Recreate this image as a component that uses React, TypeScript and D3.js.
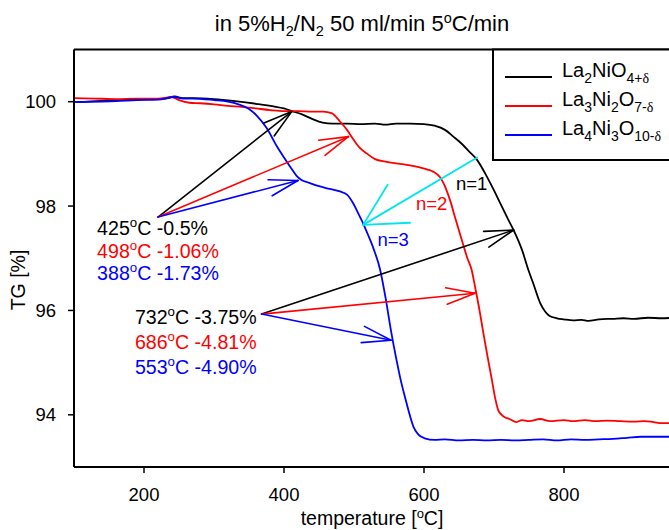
import React from "react";
import * as d3 from "d3";

// ---- data (temperature °C, TG %) ----
const la2NiO4: [number, number][] = [
  [100, 99.99], [120, 100.0], [150, 100.02], [180, 100.04], [210, 100.05], [230, 100.06], [244, 100.1], [255, 100.07],
  [270, 100.07], [300, 100.05], [330, 100.01], [360, 99.96], [385, 99.91], [400, 99.87], [411, 99.82], [425, 99.76],
  [440, 99.67], [455, 99.6], [470, 99.58], [490, 99.58], [510, 99.57], [530, 99.58], [545, 99.56], [560, 99.58],
  [580, 99.58], [600, 99.57], [615, 99.54], [630, 99.46], [642, 99.33], [655, 99.18], [665, 99.04], [675, 98.9],
  [690, 98.56], [700, 98.3], [709, 98.05], [720, 97.75], [728, 97.54], [740, 97.16], [749, 96.78], [756, 96.52],
  [766, 96.14], [773, 95.98], [779, 95.9], [790, 95.85], [800, 95.83], [813, 95.81], [825, 95.82], [835, 95.8],
  [850, 95.83], [870, 95.84], [885, 95.85], [900, 95.84], [920, 95.86], [940, 95.85], [960, 95.86], [980, 95.86], [1000, 95.86],
];
const la3Ni2O7: [number, number][] = [
  [100, 100.07], [130, 100.06], [160, 100.05], [190, 100.06], [220, 100.06], [240, 100.09], [250, 100.03], [265, 99.98],
  [280, 99.97], [300, 99.95], [320, 99.92], [340, 99.9], [360, 99.87], [380, 99.84], [400, 99.82], [420, 99.82],
  [440, 99.81], [456, 99.81], [468, 99.78], [480, 99.62], [490, 99.46], [499, 99.28], [508, 99.12], [518, 99.01],
  [530, 98.9], [545, 98.85], [566, 98.81], [580, 98.78], [594, 98.74], [605, 98.7], [613, 98.66], [623, 98.55],
  [632, 98.31], [638, 98.08], [644, 97.8], [654, 97.35], [662, 97.0], [668, 96.78], [673, 96.45], [680, 95.95],
  [685, 95.55], [691, 95.1], [697, 94.67], [702, 94.3], [706, 94.09], [711, 94.0], [716, 93.95], [722, 93.92],
  [732, 93.86], [740, 93.9], [750, 93.88], [766, 93.92], [780, 93.88], [800, 93.9], [813, 93.88], [830, 93.9],
  [845, 93.88], [861, 93.89], [880, 93.88], [900, 93.87], [915, 93.88], [928, 93.86], [940, 93.84], [950, 93.84],
  [970, 93.84], [1000, 93.84],
];
const la4Ni3O10: [number, number][] = [
  [100, 99.99], [130, 100.0], [160, 100.01], [190, 100.03], [220, 100.04], [244, 100.09], [255, 100.06], [270, 100.06],
  [300, 100.03], [320, 100.0], [335, 99.95], [350, 99.86], [362, 99.72], [375, 99.5], [390, 99.14], [400, 98.93],
  [409, 98.75], [418, 98.58], [425, 98.5], [435, 98.45], [450, 98.38], [465, 98.33], [480, 98.28], [490, 98.22],
  [499, 98.05], [506, 97.86], [513, 97.67], [520, 97.45], [528, 97.18], [537, 96.8], [545, 96.25], [553, 95.6],
  [560, 95.1], [567, 94.65], [574, 94.28], [580, 93.98], [585, 93.77], [592, 93.62], [601, 93.55], [615, 93.52],
  [630, 93.53], [650, 93.51], [670, 93.52], [690, 93.51], [710, 93.52], [730, 93.51], [750, 93.52], [770, 93.53],
  [790, 93.51], [810, 93.53], [830, 93.52], [850, 93.53], [870, 93.54], [890, 93.56], [910, 93.58], [930, 93.58],
  [950, 93.58], [970, 93.58], [1000, 93.58],
];

const xTicks = [200, 400, 600, 800];
const yTicks = [94, 96, 98, 100];

const seriesNames = ["La2NiO4+δ", "La3Ni2O7-δ", "La4Ni3O10-δ"];
const legendParts: [string, string][][] = [
  [["La", "2"], ["NiO", "4+δ"]],
  [["La", "3"], ["Ni", "2"], ["O", "7-δ"]],
  [["La", "4"], ["Ni", "3"], ["O", "10-δ"]],
];
const colors = ["#000000", "#ff0000", "#0000ff"];

// annotation groups: origin, tips (per series), labels
const group1Origin: [number, number] = [220, 97.79];
const group1Tips: [number, number][] = [[411, 99.81], [492, 99.33], [420, 98.49]];
const group1Temps = ["425", "498", "388"];
const group1Loss = ["-0.5%", "-1.06%", "-1.73%"];
const group1TextAnchor: [number, number][] = [[133, 97.58], [133, 97.14], [133, 96.72]];

const group2Origin: [number, number] = [368, 95.93];
const group2Tips: [number, number][] = [[728, 97.54], [673, 96.33], [553, 95.43]];
const group2Temps = ["732", "686", "553"];
const group2Loss = ["-3.75%", "-4.81%", "-4.90%"];
const group2TextAnchor: [number, number][] = [[187, 95.88], [187, 95.4], [187, 94.91]];

const cyanFrom: [number, number] = [676, 98.93];
const cyanTo: [number, number] = [513, 97.64];

const nLabels = ["n=1", "n=2", "n=3"];
const nPos: [number, number][] = [[668, 98.44], [611, 98.05], [556, 97.35]];

const FONT = "'Liberation Sans', Arial, Helvetica, sans-serif";

const x = d3.scaleLinear().domain([100, 1000]).range([74, 704]);
const y = d3.scaleLinear().domain([93, 101]).range([467, 49.5]);

function Arrow({ from, to, color, len = 30, ang = 16, width = 1.6 }: any) {
  const x1 = x(from[0]), y1 = y(from[1]), x2 = x(to[0]), y2 = y(to[1]);
  const a = Math.atan2(y1 - y2, x1 - x2);
  const r = (ang * Math.PI) / 180;
  const b1 = [x2 + len * Math.cos(a + r), y2 + len * Math.sin(a + r)];
  const b2 = [x2 + len * Math.cos(a - r), y2 + len * Math.sin(a - r)];
  return (
    <g stroke={color} strokeWidth={width} fill="none" strokeLinecap="round">
      <line x1={x1} y1={y1} x2={x2} y2={y2} />
      <line x1={b1[0]} y1={b1[1]} x2={x2} y2={y2} />
      <line x1={b2[0]} y1={b2[1]} x2={x2} y2={y2} />
    </g>
  );
}

function AnnoText({ pos, temp, loss, color, size = 19.6 }: any) {
  return (
    <text x={x(pos[0])} y={y(pos[1])} dy="0.35em" fill={color} fontSize={size} fontFamily={FONT}>
      {temp}
      <tspan dy={-size * 0.4} fontSize={size * 0.68}>o</tspan>
      <tspan dy={size * 0.4}>{"C " + loss}</tspan>
    </text>
  );
}

export default function App() {
  const line = d3
    .line<[number, number]>()
    .x((d) => x(d[0]))
    .y((d) => y(d[1]))
    .curve(d3.curveMonotoneX);
  const series = [la2NiO4, la3Ni2O7, la4Ni3O10];
  const x0 = x(100);
  const yb = y(93);
  const yt = y(101);
  const legX = 493;
  const legRows = [77, 106, 135];
  return (
    <svg
      width={669}
      height={530}
      style={{ position: "absolute", left: 0, top: 0, background: "#fff" }}
      fontFamily={FONT}
    >
      <rect x={0} y={0} width={669} height={530} fill="#fff" />
      {/* title */}
      <text x={362} y={31} textAnchor="middle" fontSize={22} fill="#000">
        in 5%H<tspan dy={5} fontSize={14.5}>2</tspan>
        <tspan dy={-5}>/N</tspan>
        <tspan dy={5} fontSize={14.5}>2</tspan>
        <tspan dy={-5}> 50 ml/min 5</tspan>
        <tspan dy={-8} fontSize={14.5}>o</tspan>
        <tspan dy={8}>C/min</tspan>
      </text>

      {/* curves */}
      <g>
        {series.map((s, i) => (
          <path key={seriesNames[i]} d={line(s) || ""} fill="none" stroke={colors[i]} strokeWidth={1.8} />
        ))}
      </g>

      {/* frame / axes */}
      <line x1={x0} y1={yt} x2={680} y2={yt} stroke="#000" strokeWidth={2} />
      <line x1={x0} y1={yt} x2={x0} y2={yb} stroke="#000" strokeWidth={2} />
      <line x1={x0} y1={yb} x2={680} y2={yb} stroke="#000" strokeWidth={2} />
      {xTicks.map((t) => (
        <g key={"xt" + t}>
          <line x1={x(t)} x2={x(t)} y1={yb} y2={yb + 6} stroke="#000" strokeWidth={1.5} />
          <text x={x(t)} y={yb + 34} textAnchor="middle" fontSize={18.5}>{t}</text>
        </g>
      ))}
      {yTicks.map((t) => (
        <g key={"yt" + t}>
          <line x1={x0 - 6} x2={x0} y1={y(t)} y2={y(t)} stroke="#000" strokeWidth={1.5} />
          <text x={x0 - 18} y={y(t)} dy="0.35em" textAnchor="end" fontSize={18.5}>{t}</text>
        </g>
      ))}
      <text x={372} y={525} textAnchor="middle" fontSize={19.5}>
        temperature [<tspan dy={-7} fontSize={13}>o</tspan>
        <tspan dy={7}>C]</tspan>
      </text>
      <text transform={`translate(25,${280}) rotate(-90)`} textAnchor="middle" fontSize={19.5}>TG [%]</text>

      {/* arrows */}
      {group1Tips.map((t, i) => (
        <Arrow key={"g1" + i} from={group1Origin} to={t} color={colors[i]} />
      ))}
      {group2Tips.map((t, i) => (
        <Arrow key={"g2" + i} from={group2Origin} to={t} color={colors[i]} />
      ))}
      <Arrow from={cyanFrom} to={cyanTo} color="#00e5ee" len={47} ang={28} width={1.8} />

      {/* annotation texts */}
      {group1Temps.map((tp, i) => (
        <AnnoText key={"t1" + i} pos={group1TextAnchor[i]} temp={tp} loss={group1Loss[i]} color={colors[i]} />
      ))}
      {group2Temps.map((tp, i) => (
        <AnnoText key={"t2" + i} pos={group2TextAnchor[i]} temp={tp} loss={group2Loss[i]} color={colors[i]} />
      ))}
      {nLabels.map((n, i) => (
        <text key={n} x={x(nPos[i][0])} y={y(nPos[i][1])} dy="0.35em" textAnchor="middle" fontSize={18.5} fill={colors[i]}>
          {n}
        </text>
      ))}

      {/* legend */}
      <rect x={legX} y={yt} width={200} height={160 - yt} fill="#fff" stroke="#000" strokeWidth={2} />
      {legendParts.map((parts, i) => (
        <g key={"lg" + i}>
          <line x1={505} x2={552} y1={legRows[i]} y2={legRows[i]} stroke={colors[i]} strokeWidth={1.8} />
          <text x={562} y={legRows[i]} dy="0.35em" fontSize={20}>
            {parts.map(([base, sub], j) => (
              <React.Fragment key={j}>
                <tspan dy={j === 0 ? 0 : -6}>{base}</tspan>
                <tspan dy={6} fontSize={14}>
                  {sub.replace("δ", "")}
                  {sub.includes("δ") ? <tspan fontFamily="'Liberation Serif', 'DejaVu Serif', serif">δ</tspan> : null}
                </tspan>
              </React.Fragment>
            ))}
          </text>
        </g>
      ))}
    </svg>
  );
}
